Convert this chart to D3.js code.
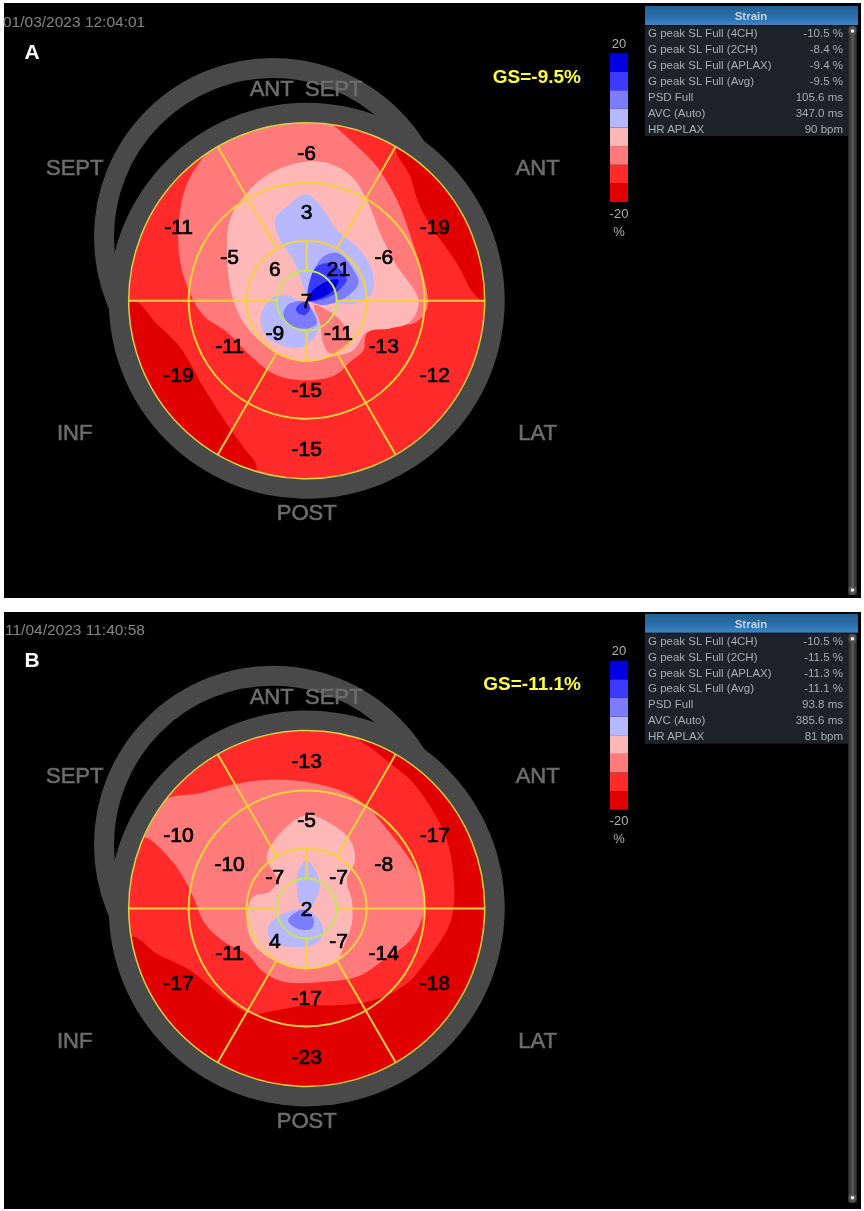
<!DOCTYPE html>
<html>
<head>
<meta charset="utf-8">
<script src="https://cdn.jsdelivr.net/npm/d3@7"></script>
<style>
html, body { margin: 0; padding: 0; background: #fff; }
text { font-family: "Liberation Sans", Arial, sans-serif; }
</style>
</head>
<body>
<div class="container"></div>
<script>
// legend bins, bottom to top
const legendEdges = [-20, -15, -10, -5, 0, 5, 10, 15, 20];
const legendColors = ['#e00000', '#ff2a2a', '#ff7a7a', '#ffb8b8', '#b8b8ff', '#7c7cff', '#3a3aff', '#0000e0'];

const viewLabels = ['ANT', 'SEPT', 'SEPT', 'ANT', 'INF', 'LAT', 'POST'];
const strainLabels = ['G peak SL Full (4CH)', 'G peak SL Full (2CH)', 'G peak SL Full (APLAX)',
    'G peak SL Full (Avg)', 'PSD Full', 'AVC (Auto)', 'HR APLAX'];
const strainValuesA = ['-10.5 %', '-8.4 %', '-9.4 %', '-9.5 %', '105.6 ms', '347.0 ms', '90 bpm'];
const strainValuesB = ['-10.5 %', '-11.5 %', '-11.3 %', '-11.1 %', '93.8 ms', '385.6 ms', '81 bpm'];

// segment values, clockwise from the top
const basalA = [-6, -19, -12, -15, -19, -11];
const midA = [3, -6, -13, -15, -11, -5];
const apicalA = [21, -11, -9, 6];
const apexA = 7;
const basalB = [-13, -17, -18, -23, -17, -10];
const midB = [-5, -8, -14, -17, -11, -10];
const apicalB = [-7, -7, 4, -7];
const apexB = 2;

// contour outlines, [strain level, outline].
// Readings are in a frame where the LV circle spans 1066 units.
const contoursA = [
    [-17, [[915,262],[960,350],[985,430],[1030,510],[1100,610],[1150,700],[1185,722],[1300,650],[1250,350],[950,150]]],
    [-17, [[130,722],[200,790],[270,860],[340,980],[420,1105],[460,1160],[500,1225],[400,1320],[100,1100],[40,800]]],
    [-7, [[720,190],[790,250],[860,320],[920,420],[965,540],[1005,670],[1012,740],[980,785],[900,800],[830,820],[820,870],[780,905],[735,945],[650,960],[560,945],[480,885],[410,815],[340,765],[285,660],[265,540],[285,390],[335,300],[385,255],[480,170],[620,140]]],
    [-3, [[650,305],[720,312],[785,350],[835,430],[870,520],[915,610],[985,722],[960,785],[900,805],[830,815],[790,870],[720,890],[650,905],[560,880],[470,800],[430,720],[412,600],[420,480],[470,400],[540,340]]],
    [-7, [[672,735],[740,770],[770,810],[780,850],[720,880],[700,850],[690,790]]],
    [3, [[650,403],[700,450],[740,510],[800,560],[845,630],[845,700],[800,730],[740,730],[660,722],[640,680],[610,600],[570,540],[555,480],[590,440]]],
    [3, [[640,735],[600,708],[550,712],[512,770],[530,830],[590,860],[640,860],[680,820],[685,780],[660,740]]],
    [7, [[660,720],[665,650],[700,590],[745,580],[790,630],[805,670],[770,710],[700,735]]],
    [7, [[645,725],[600,730],[580,760],[600,795],[650,805],[680,790],[665,750]]],
    [12, [[655,722],[660,660],[680,620],[720,610],[760,640],[770,660],[735,700],[690,720]]],
    [12, [[650,725],[620,740],[620,755],[645,765],[660,745]]],
    [17, [[650,722],[670,690],[720,660],[745,660],[730,690],[690,715]]],
];
const contoursB = [
    [-17, [[800,225],[850,270],[900,310],[960,360],[1020,440],[1070,540],[1090,650],[1090,740],[1075,800],[1010,900],[950,970],[850,1020],[740,1035],[650,1035],[560,1050],[480,1060],[400,1010],[300,930],[200,880],[125,830],[30,950],[300,1400],[950,1400],[1300,950],[1300,540],[1000,120]]],
    [-7, [[150,530],[225,420],[330,400],[440,372],[540,360],[640,365],[760,395],[830,440],[900,520],[960,600],[1000,680],[1000,760],[960,840],[880,900],[800,950],[700,965],[580,965],[520,935],[470,880],[410,850],[345,790],[310,710],[260,620],[175,535]]],
    [-3, [[650,465],[720,490],[780,540],[795,600],[770,660],[785,720],[785,790],[760,860],[740,905],[650,925],[560,905],[490,850],[470,770],[490,710],[540,695],[560,660],[530,590],[580,510]]],
    [3, [[650,600],[680,640],[690,680],[670,730],[650,745],[630,730],[620,680],[625,630]]],
    [3, [[640,745],[570,765],[535,800],[545,845],[600,860],[680,850],[700,810],[680,770],[655,750]]],
    [7, [[640,750],[600,770],[595,785],[630,808],[665,805],[670,775]]],
];

const width = 864, height = 1211;
const ringR = [30, 60, 118, 178];
const colorOf = d3.scaleThreshold().domain(legendEdges.slice(1, -1)).range(legendColors);

const svg = d3.select('.container').append('svg')
    .attr('width', width).attr('height', height)
    .style('display', 'block');
const defs = svg.append('defs');
defs.append('filter').attr('id', 'soft').append('feGaussianBlur').attr('stdDeviation', 0.45);
const headGrad = defs.append('linearGradient').attr('id', 'head').attr('x2', 0).attr('y2', 1);
headGrad.append('stop').attr('offset', 0).attr('stop-color', '#24618f');
headGrad.append('stop').attr('offset', 0.6).attr('stop-color', '#2a6fae');
headGrad.append('stop').attr('offset', 1).attr('stop-color', '#3d86c4');
const barGrad = defs.append('linearGradient').attr('id', 'bar');
barGrad.append('stop').attr('offset', 0).attr('stop-color', '#222');
barGrad.append('stop').attr('offset', 0.5).attr('stop-color', '#5a5a5a');
barGrad.append('stop').attr('offset', 1).attr('stop-color', '#222');

function toRad(deg) {
    return (deg - 90) * Math.PI / 180;
}

function drawBullseye(g, id, cfg) {
    const ringColor = '#4a4a4a';
    // the offset ring behind the main one
    g.append('circle').attr('cx', -33.7).attr('cy', -63.7).attr('r', 169)
        .attr('fill', 'none').attr('stroke', ringColor).attr('stroke-width', 20);
    g.append('circle').attr('r', 198).attr('fill', ringColor);

    const xs = d3.scaleLinear().domain([650 - 533, 650 + 533]).range([-178, 178]);
    const ys = d3.scaleLinear().domain([cfg.cy0 - 533, cfg.cy0 + 533]).range([-178, 178]);
    const line = d3.line().x(d => xs(d[0])).y(d => ys(d[1])).curve(d3.curveCatmullRomClosed.alpha(0.5));

    defs.append('clipPath').attr('id', id).append('circle').attr('r', 178);
    const map = g.append('g').attr('clip-path', `url(#${id})`);
    map.append('circle').attr('r', 178).attr('fill', colorOf(-12));
    map.selectAll('path').data(cfg.contours).enter().append('path')
        .attr('d', d => line(d[1]))
        .attr('fill', d => colorOf(d[0]));

    // segment grid
    const spokes = d3.range(6).map(i => ({ a: 30 + i * 60, r0: ringR[1], r1: ringR[3] }))
        .filter(d => d.a !== 90 && d.a !== 270)
        .concat([90, 270].map(a => ({ a, r0: ringR[0], r1: ringR[3] })))
        .concat([0, 180].map(a => ({ a, r0: ringR[0], r1: ringR[1] })));
    g.selectAll('line.spoke').data(spokes).enter().append('line')
        .attr('class', 'spoke')
        .attr('x1', d => d.r0 * Math.cos(toRad(d.a)))
        .attr('y1', d => d.r0 * Math.sin(toRad(d.a)))
        .attr('x2', d => d.r1 * Math.cos(toRad(d.a)))
        .attr('y2', d => d.r1 * Math.sin(toRad(d.a)))
        .attr('stroke', '#f4d23c').attr('stroke-width', 2);
    g.selectAll('circle.ring').data(ringR).enter().append('circle')
        .attr('class', 'ring')
        .attr('r', d => d)
        .attr('fill', 'none')
        .attr('stroke', (d, i) => i === 0 ? '#c4e45a' : i === 3 ? '#d8d040' : '#f4d23c')
        .attr('stroke-width', (d, i) => i === 3 ? 1.5 : 2);

    // segment values
    const labels = [];
    cfg.basal.forEach((v, i) => labels.push({ v, a: i * 60, r: 148 }));
    cfg.mid.forEach((v, i) => labels.push({ v, a: i * 60, r: 89 }));
    cfg.apical.forEach((v, i) => labels.push({ v, a: 45 + i * 90, r: 45 }));
    labels.push({ v: cfg.apex, a: 0, r: 0 });
    g.selectAll('text.seg').data(labels).enter().append('text')
        .attr('class', 'seg')
        .attr('x', d => d.r * Math.cos(toRad(d.a)))
        .attr('y', d => d.r * Math.sin(toRad(d.a)))
        .attr('dy', '0.35em')
        .attr('text-anchor', 'middle')
        .attr('font-size', 21)
        .attr('fill', '#000').attr('stroke', '#000').attr('stroke-width', 0.7)
        .text(d => d.v);

    // view names around the plot
    const spots = [[-35, -212], [27, -212], [-232, -133], [231, -133], [-232, 132], [231, 132], [0, 212]];
    g.selectAll('text.view').data(viewLabels).enter().append('text')
        .attr('class', 'view')
        .attr('x', (d, i) => spots[i][0])
        .attr('y', (d, i) => spots[i][1])
        .attr('dy', '0.35em')
        .attr('text-anchor', 'middle')
        .attr('font-size', 22)
        .attr('fill', '#6c6c6c').attr('stroke', '#6c6c6c').attr('stroke-width', 0.6)
        .text(d => d);
}

function drawLegend(g) {
    const y = d3.scaleLinear().domain([20, -20]).range([53, 202]);
    g.selectAll('rect').data(legendColors).enter().append('rect')
        .attr('x', 610).attr('width', 18)
        .attr('y', (d, i) => y(legendEdges[i + 1]))
        .attr('height', (d, i) => y(legendEdges[i]) - y(legendEdges[i + 1]))
        .attr('fill', d => d);
    const ends = [[43, '20'], [213, '-20'], [231, '%']];
    g.selectAll('text').data(ends).enter().append('text')
        .attr('x', 619).attr('y', d => d[0]).attr('dy', '0.35em')
        .attr('text-anchor', 'middle').attr('font-size', 13)
        .attr('fill', '#b0b0b0')
        .text(d => d[1]);
}

function drawTable(g, values) {
    g.append('rect').attr('x', 645).attr('y', 26).attr('width', 203).attr('height', 110).attr('fill', '#1a222c');
    g.append('rect').attr('x', 645).attr('y', 6).attr('width', 213).attr('height', 19).attr('fill', 'url(#head)');
    g.append('text').attr('x', 751).attr('y', 16).attr('dy', '0.35em')
        .attr('text-anchor', 'middle').attr('font-size', 11.5).attr('font-weight', 'bold')
        .attr('fill', '#c4d0dc').text('Strain');
    const rowY = d3.scaleLinear().domain([0, 6]).range([33, 128.5]);
    g.selectAll('text.name').data(strainLabels).enter().append('text')
        .attr('class', 'name')
        .attr('x', 648).attr('y', (d, i) => rowY(i)).attr('dy', '0.35em')
        .attr('font-size', 11.5).attr('fill', '#a8acb0').text(d => d);
    g.selectAll('text.val').data(values).enter().append('text')
        .attr('class', 'val')
        .attr('x', 843).attr('y', (d, i) => rowY(i)).attr('dy', '0.35em')
        .attr('text-anchor', 'end')
        .attr('font-size', 11.5).attr('fill', '#a8acb0').text(d => d);
    // scrollbar
    g.append('rect').attr('x', 848).attr('y', 26).attr('width', 9).attr('height', 569).attr('fill', 'url(#bar)');
    [31, 590].forEach(cy => {
        g.append('circle').attr('cx', 852.5).attr('cy', cy).attr('r', 4).attr('fill', '#555');
        g.append('circle').attr('cx', 852.5).attr('cy', cy).attr('r', 1.8).attr('fill', '#eee');
    });
}

function drawPanel(cfg) {
    const dy = cfg.dy;
    svg.append('rect').attr('x', 4).attr('y', cfg.top).attr('width', 857).attr('height', cfg.bottom - cfg.top).attr('fill', '#000');
    const g = svg.append('g').attr('transform', `translate(0,${dy})`).attr('filter', 'url(#soft)');
    g.append('text').attr('x', cfg.stampX).attr('y', 22).attr('dy', '0.35em')
        .attr('font-size', 15.5).attr('fill', '#858585').text(cfg.stamp);
    g.append('text').attr('x', 32).attr('y', 52).attr('dy', '0.35em')
        .attr('text-anchor', 'middle').attr('font-size', 21).attr('font-weight', 'bold')
        .attr('fill', '#fff').text(cfg.letter);
    g.append('text').attr('x', 581).attr('y', 76).attr('dy', '0.35em')
        .attr('text-anchor', 'end').attr('font-size', 19).attr('font-weight', 'bold')
        .attr('fill', '#ffff3c').text(cfg.gs);
    drawBullseye(g.append('g').attr('transform', 'translate(306.7,300.7)'), 'clip' + cfg.letter, cfg);
    drawLegend(g.append('g'));
    drawTable(g.append('g'), cfg.values);
}

drawPanel({ letter: 'A', stamp: '01/03/2023 12:04:01', stampX: 3, gs: 'GS=-9.5%', top: 3, bottom: 598, dy: 0, cy0: 722,
    contours: contoursA, basal: basalA, mid: midA, apical: apicalA, apex: apexA, values: strainValuesA });
drawPanel({ letter: 'B', stamp: '11/04/2023 11:40:58', stampX: 5, gs: 'GS=-11.1%', top: 612, bottom: 1209, dy: 607.7, cy0: 745,
    contours: contoursB, basal: basalB, mid: midB, apical: apicalB, apex: apexB, values: strainValuesB });
</script>
</body>
</html>
